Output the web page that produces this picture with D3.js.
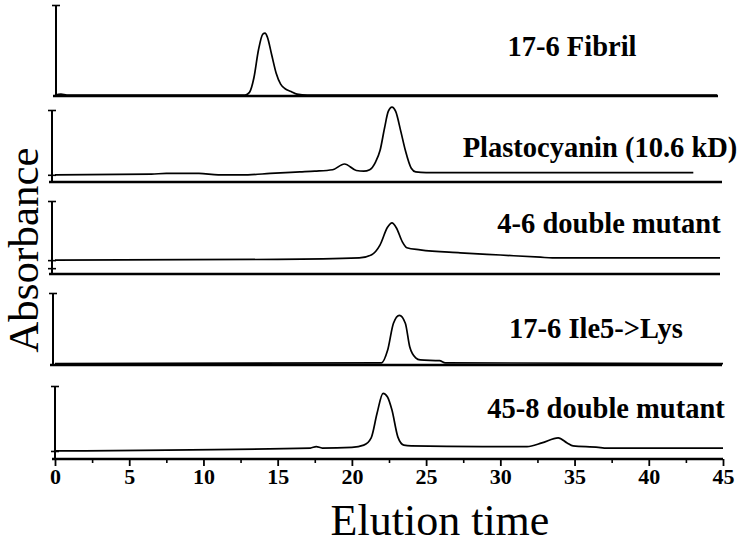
<!DOCTYPE html>
<html>
<head>
<meta charset="utf-8">
<script src="https://cdn.jsdelivr.net/npm/d3@7/dist/d3.min.js"></script>
<style>
  body { margin: 0; background: #fff; }
  svg { display: block; }
  .x_axis text { font-family: 'Liberation Serif', 'Times New Roman', serif; font-weight: bold; font-size: 22px; }
</style>
</head>
<body>
<svg id="chart" width="745" height="545"></svg>
<script>

// ---- data (time in min, absorbance as fraction of panel height) ----
var sampleNames = ["17-6 Fibril", "Plastocyanin (10.6 kD)", "4-6 double mutant",
                   "17-6 Ile5->Lys", "45-8 double mutant"];

var xTicks = [0, 5, 10, 15, 20, 25, 30, 35, 40, 45];

var fibril = [[0,0.01],[0.4,0.02],[0.8,0.01],[12.8,0.01],[13.1,0.04],[13.4,0.2],[13.7,0.5],
  [14.0,0.68],[14.15,0.69],[14.3,0.65],[14.6,0.45],[14.9,0.25],[15.2,0.13],[15.5,0.08],
  [15.9,0.05],[16.3,0.02],[17,0.01],[44.6,0.01]];

var plastocyanin = [[0,0.1],[6.5,0.11],[7.5,0.12],[9.7,0.12],[11,0.1],[13,0.1],[14.5,0.12],
  [16.5,0.14],[17.5,0.15],[18.7,0.17],[19.5,0.25],[20.3,0.16],[20.8,0.15],[21.2,0.17],
  [21.6,0.28],[21.9,0.44],[22.2,0.75],[22.45,0.98],[22.7,1.04],[22.95,0.98],
  [23.3,0.7],[23.6,0.44],[24.0,0.19],[24.3,0.14],[25,0.13],[43,0.13]];

var mutant46 = [[0,0.19],[15,0.2],[20.5,0.22],[21.3,0.26],[21.9,0.4],[22.4,0.64],
  [22.7,0.7],[23.0,0.63],[23.4,0.44],[23.7,0.36],[24.6,0.33],[27.3,0.29],[30,0.26],
  [32.7,0.23],[33.5,0.22],[44.8,0.22]];

var ile5lys = [[0,0.02],[22.0,0.03],[22.4,0.2],[22.8,0.58],[23.2,0.69],[23.6,0.58],
  [23.9,0.25],[24.3,0.1],[24.6,0.07],[25.9,0.06],[26.3,0.03],[45,0.02]];

var mutant458 = [[0,0.11],[17.2,0.15],[17.6,0.17],[18,0.15],[20,0.16],[20.8,0.19],
  [21.3,0.29],[21.7,0.63],[22.1,0.9],[22.4,0.85],[22.7,0.67],[23.1,0.3],[23.5,0.19],
  [24,0.18],[28.8,0.17],[31.8,0.17],[32.8,0.22],[33.9,0.29],[34.5,0.22],[34.9,0.18],
  [36.6,0.16],[37,0.15],[45,0.15]];

var traces = [fibril, plastocyanin, mutant46, ile5lys, mutant458];
var baseLevels = [[], [0.1], [0.19, 0.08], [], [0.11]];

// ---- layout ----
var panelTop = [5, 110, 201, 293, 386];
var panelBottom = [96, 182, 274, 365, 459];
var axisX = [56, 52, 52, 53, 55];
var lineEnd = [718, 722, 720, 722, 723];
var labelX = [572, 600, 609, 596, 606];
var labelY = [56, 157, 233, 338, 418];

var serif = "'Liberation Serif', 'Times New Roman', Times, serif";

var svg = d3.select("#chart");

var xScale = d3.scaleLinear()
    .domain([0, 45])
    .range([55, 723]);

var line = d3.line()
    .x(function(d) { return xScale(d[0]); })
    .curve(d3.curveMonotoneX);

traces.forEach(function(data, i) {
    var yScale = d3.scaleLinear()
        .domain([0, 1])
        .range([panelBottom[i], panelTop[i]]);

    var g = svg.append("g").attr("class", "panel");

    // bottom line of the panel
    if (i < traces.length - 1) {
        g.append("line")
            .attr("x1", axisX[i] - 3)
            .attr("x2", lineEnd[i])
            .attr("y1", panelBottom[i])
            .attr("y2", panelBottom[i])
            .attr("stroke", "#000")
            .attr("stroke-width", 2.4);
    }

    // y axis with crossing ticks
    var yTicks = [1].concat(baseLevels[i]);
    var yAxis = d3.axisLeft(yScale).tickValues(yTicks).tickSize(4).tickFormat("");
    g.append("g")
        .attr("transform", "translate(" + axisX[i] + ",0)")
        .call(yAxis)
        .call(function(a) {
            a.select(".domain").attr("stroke-width", 2).attr("d",
                "M0," + panelTop[i] + "V" + panelBottom[i]);
            a.selectAll(".tick line").attr("stroke-width", 1.6);
        });
    g.append("g")
        .attr("transform", "translate(" + axisX[i] + ",0)")
        .call(d3.axisRight(yScale).tickValues(yTicks).tickSize(4).tickFormat(""))
        .call(function(a) {
            a.select(".domain").remove();
            a.selectAll(".tick line").attr("stroke-width", 1.6);
        });

    // trace
    line.y(function(d) { return yScale(d[1]); });
    g.append("path")
        .datum(data)
        .attr("d", line)
        .attr("fill", "none")
        .attr("stroke", "#000")
        .attr("stroke-width", 1.7);

    // sample label
    g.append("text")
        .attr("x", labelX[i])
        .attr("y", labelY[i])
        .attr("text-anchor", "middle")
        .attr("font-family", serif)
        .attr("font-weight", "bold")
        .attr("font-size", "28.5px")
        .text(sampleNames[i]);
});

// bottom x axis with minor ticks
var minorTicks = d3.range(0, 45.1, 2.5).filter(function(t) { return t % 5 != 0; });

var xAxis = d3.axisBottom(xScale).tickValues(xTicks).tickSize(7).tickPadding(2);
svg.append("g")
    .attr("class", "x_axis")
    .attr("transform", "translate(0," + panelBottom[4] + ")")
    .call(xAxis)
    .call(function(a) {
        a.select(".domain").attr("stroke-width", 2.4).attr("d", "M52,0H723");
        a.selectAll(".tick line").attr("stroke-width", 1.8);
        a.selectAll("text").attr("fill", "#000");
    });

svg.append("g")
    .attr("transform", "translate(0," + panelBottom[4] + ")")
    .call(d3.axisBottom(xScale).tickValues(minorTicks).tickSize(4).tickFormat(""))
    .call(function(a) {
        a.select(".domain").remove();
        a.selectAll(".tick line").attr("stroke-width", 1.6);
    });

// axis titles
svg.append("text")
    .attr("x", 440)
    .attr("y", 535)
    .attr("text-anchor", "middle")
    .attr("font-family", serif)
    .attr("font-size", "44px")
    .text("Elution time");

svg.append("text")
    .attr("transform", "translate(38,250) rotate(-90)")
    .attr("text-anchor", "middle")
    .attr("font-family", serif)
    .attr("font-size", "43px")
    .text("Absorbance");

</script>
</body>
</html>
